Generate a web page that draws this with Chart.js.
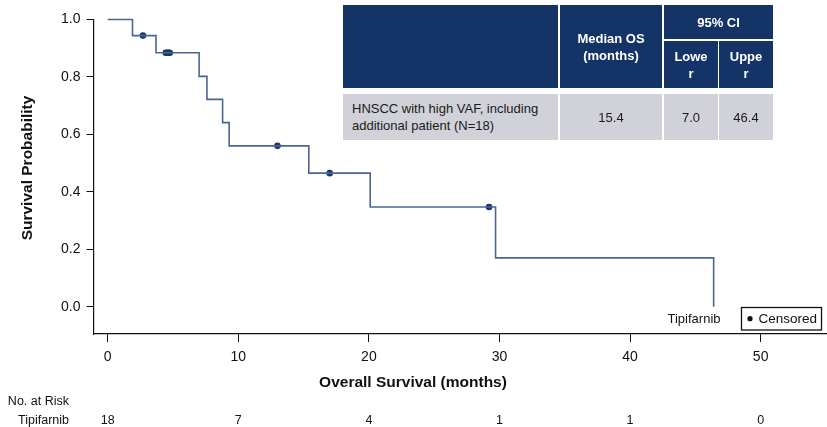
<!DOCTYPE html>
<html>
<head>
<meta charset="utf-8">
<script src="https://cdn.jsdelivr.net/npm/chart.js@4.4.1/dist/chart.umd.min.js"></script>
<style>
  html, body { margin: 0; padding: 0; background: #fff; }
  #wrap { position: relative; width: 827px; height: 427px; font-family: 'Liberation Sans', Arial, sans-serif; }
  #km { position: absolute; left: 0; top: 0; }
  .cell { position: absolute; box-sizing: border-box; display: flex; align-items: center; justify-content: center;
          text-align: center; font-size: 13px; line-height: 17px; }
  .hd { background: #143468; color: #fff; font-weight: bold; }
  .bd { background: #d0d1d9; color: #1a1a1a; }
  .left { justify-content: flex-start; text-align: left; padding-left: 9px; }
</style>
</head>
<body>
<div id="wrap">
  <canvas id="km" width="827" height="427"></canvas>
  <div id="summary"></div>
</div>
<script>
// Kaplan-Meier step points: time (months) at which survival drops, and survival after the drop
const eventTimes = [0, 1.9, 3.7, 7.0, 7.6, 8.8, 9.3, 15.4, 20.1, 29.7, 46.4];
const survival   = [1.0, 0.944, 0.884, 0.802, 0.722, 0.641, 0.560, 0.465, 0.347, 0.170, 0.0];

// Censored observations
const censorTimes = [2.7, 4.45, 4.55, 4.65, 4.75, 13.0, 17.0, 29.2];
const censorSurv  = [0.944, 0.884, 0.884, 0.884, 0.884, 0.560, 0.465, 0.347];

// Axis ticks
const xTicks = [0, 10, 20, 30, 40, 50];
const yTicks = [0.0, 0.2, 0.4, 0.6, 0.8, 1.0];

// Number at risk under each x tick
const riskLabel = 'Tipifarnib';
const atRisk = [18, 7, 4, 1, 1, 0];

// Summary statistics
const groupName = 'HNSCC with high VAF, including<br>additional patient (N=18)';
const medianOS = 15.4;
const ciLower = 7.0;
const ciUpper = 46.4;

const FONT = "'Liberation Sans', Arial, sans-serif";
const LINE_COLOR = '#4a6592';
const DOT_COLOR = '#1b3668';

// Summary table (positioned over the upper-right of the plot)
const cells = [
  { cls: 'hd', x: 343, y: 5,  w: 215, h: 83, html: '' },
  { cls: 'hd', x: 560, y: 5,  w: 102, h: 83, html: 'Median OS<br>(months)' },
  { cls: 'hd', x: 664, y: 5,  w: 109, h: 34, html: '95% CI' },
  { cls: 'hd', x: 664, y: 41, w: 54,  h: 47, html: 'Lowe<br>r' },
  { cls: 'hd', x: 719, y: 41, w: 54,  h: 47, html: 'Uppe<br>r' },
  { cls: 'bd left', x: 343, y: 94, w: 215, h: 46, html: groupName },
  { cls: 'bd', x: 560, y: 94, w: 102, h: 46, html: medianOS.toFixed(1) },
  { cls: 'bd', x: 664, y: 94, w: 54,  h: 46, html: ciLower.toFixed(1) },
  { cls: 'bd', x: 719, y: 94, w: 54,  h: 46, html: ciUpper.toFixed(1) }
];
const summary = document.getElementById('summary');
cells.forEach(c => {
  const d = document.createElement('div');
  d.className = 'cell ' + c.cls;
  d.style.left = c.x + 'px'; d.style.top = c.y + 'px';
  d.style.width = c.w + 'px'; d.style.height = c.h + 'px';
  d.innerHTML = c.html;
  summary.appendChild(d);
});

// Titles, risk table, curve label and censor legend drawn on the canvas
const annotations = {
  id: 'kmAnnotations',
  afterDraw(chart) {
    const ctx = chart.ctx;
    const xs = chart.scales.x;
    ctx.save();
    ctx.fillStyle = '#111';

    ctx.font = 'bold 15.5px ' + FONT;
    ctx.textAlign = 'center';
    ctx.textBaseline = 'middle';
    ctx.fillText('Overall Survival (months)', 413, 383);

    ctx.save();
    ctx.translate(28, 168);
    ctx.rotate(-Math.PI / 2);
    ctx.fillText('Survival Probability', 0, 0);
    ctx.restore();

    // number at risk
    ctx.font = '12.5px ' + FONT;
    ctx.textAlign = 'right';
    ctx.fillText('No. at Risk', 69, 401.5);
    ctx.fillText(riskLabel, 69, 421);
    ctx.textAlign = 'center';
    xTicks.forEach((t, i) => ctx.fillText(String(atRisk[i]), xs.getPixelForValue(t), 421));

    // curve label near the end of the line
    ctx.font = '13px ' + FONT;
    ctx.textAlign = 'right';
    ctx.fillText(riskLabel, 720.5, 319.5);

    // censor legend
    ctx.fillStyle = '#fff';
    ctx.fillRect(741.5, 307.5, 80, 22.5);
    ctx.strokeStyle = '#111';
    ctx.lineWidth = 1.3;
    ctx.strokeRect(741.5, 307.5, 80, 22.5);
    ctx.fillStyle = '#111';
    ctx.beginPath();
    ctx.arc(750, 318.7, 2.6, 0, Math.PI * 2);
    ctx.fill();
    ctx.font = '13.5px ' + FONT;
    ctx.textAlign = 'left';
    ctx.fillText('Censored', 758.5, 319);

    ctx.restore();
  }
};

new Chart(document.getElementById('km'), {
  type: 'line',
  data: {
    datasets: [
      {
        label: 'Tipifarnib',
        data: eventTimes.map((t, i) => ({ x: t, y: survival[i] })),
        stepped: 'before',
        borderColor: LINE_COLOR,
        borderWidth: 1.6,
        pointRadius: 0,
        fill: false,
        clip: false
      },
      {
        type: 'scatter',
        label: 'Censored',
        data: censorTimes.map((t, i) => ({ x: t, y: censorSurv[i] })),
        backgroundColor: DOT_COLOR,
        borderColor: DOT_COLOR,
        borderWidth: 0,
        pointRadius: 3.3,
        clip: false
      }
    ]
  },
  options: {
    responsive: false,
    animation: false,
    devicePixelRatio: 1,
    layout: { autoPadding: false, padding: { top: 19.5, left: 0, right: 0, bottom: 0 } },
    plugins: { legend: { display: false }, tooltip: { enabled: false }, title: { display: false } },
    scales: {
      x: {
        type: 'linear',
        min: -1.087,
        max: 55.08,
        afterBuildTicks: s => { s.ticks = xTicks.map(v => ({ value: v })); },
        afterFit: s => { s.height = 93; },
        grid: { drawOnChartArea: false, drawTicks: true, tickLength: 8, color: '#111', lineWidth: 1 },
        border: { display: true, color: '#111', width: 1.2 },
        ticks: { color: '#111', font: { family: FONT, size: 14 }, padding: 7, maxRotation: 0,
                 callback: v => String(v) }
      },
      y: {
        type: 'linear',
        min: -0.095,
        max: 1.0,
        afterBuildTicks: s => { s.ticks = yTicks.map(v => ({ value: v })); },
        afterFit: s => { s.width = 93.5; },
        grid: { drawOnChartArea: false, drawTicks: true, tickLength: 7, color: '#111', lineWidth: 1 },
        border: { display: true, color: '#111', width: 1.2 },
        ticks: { color: '#111', font: { family: FONT, size: 14 }, padding: 6,
                 callback: v => Number(v).toFixed(1) }
      }
    }
  },
  plugins: [annotations]
});
</script>
</body>
</html>
